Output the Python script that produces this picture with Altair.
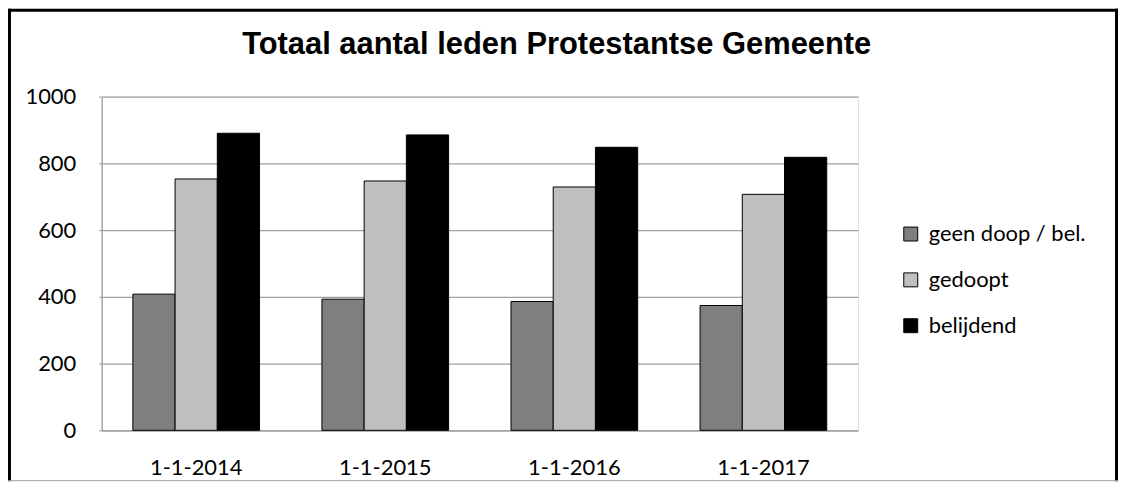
import altair as alt
import pandas as pd

dates = ["1-1-2014", "1-1-2015", "1-1-2016", "1-1-2017"]
series = ["geen doop / bel.", "gedoopt", "belijdend"]
geen = [408, 393, 386, 374]
gedoopt = [753, 747, 729, 707]
belijdend = [890, 885, 848, 818]
colors = ["#7F7F7F", "#BFBFBF", "#000000"]

rows = []
for i, d in enumerate(dates):
    for s, vals in zip(series, [geen, gedoopt, belijdend]):
        rows.append({"datum": d, "groep": s, "leden": vals[i]})
df = pd.DataFrame(rows)

W, H = 759, 335
PL, PT, PR, PB = 94, 88, 261, 51
TOT_W = PL + W + PR
TOT_H = PT + H + PB

bars = alt.Chart(df).mark_bar(stroke="#000000", strokeWidth=1).encode(
    x=alt.X("datum:N", sort=dates, title=None,
            scale=alt.Scale(paddingInner=0.33, paddingOuter=0.165),
            axis=alt.Axis(labelAngle=0, ticks=False, labelPadding=27,
                          domainColor="#A0A0A0", domainWidth=1.3,
                          labelFont="Lato", labelFontSize=22, labelColor="#000000")),
    xOffset=alt.XOffset("groep:N", sort=series, scale=alt.Scale(paddingInner=0, paddingOuter=0)),
    y=alt.Y("leden:Q", title=None,
            scale=alt.Scale(domain=[0, 1000], nice=False),
            axis=alt.Axis(values=[0, 200, 400, 600, 800, 1000], format="d",
                          tickSize=3, tickColor="#A0A0A0",
                          labelPadding=23, grid=True, gridColor="#A0A0A0", gridWidth=1.3,
                          domainColor="#A0A0A0", domainWidth=1.3,
                          labelFont="Lato", labelFontSize=22, labelColor="#000000")),
    color=alt.Color("groep:N", sort=series,
                    scale=alt.Scale(domain=series, range=colors),
                    legend=alt.Legend(title=None, orient="none", legendX=801, legendY=127,
                                      symbolType="square", symbolSize=196,
                                      symbolStrokeColor="#000000", symbolStrokeWidth=1,
                                      symbolOpacity=1,
                                      labelFont="Lato", labelFontSize=22, labelColor="#000000",
                                      labelOffset=7, rowPadding=24, padding=0)),
)

one = alt.Data(values=[{"k": 1}])
frame_top = alt.Chart(one).mark_rule(color="#000000", strokeWidth=3).encode(
    x=alt.value(-PL), x2=alt.value(TOT_W - PL), y=alt.value(-PT + 1.5))
frame_left = alt.Chart(one).mark_rule(color="#000000", strokeWidth=3).encode(
    x=alt.value(-PL + 1.5), y=alt.value(-PT), y2=alt.value(TOT_H - PT))
frame_right = alt.Chart(one).mark_rule(color="#000000", strokeWidth=3).encode(
    x=alt.value(TOT_W - PL - 1.5), y=alt.value(-PT), y2=alt.value(TOT_H - PT))
frame_bottom = alt.Chart(one).mark_rule(color="#A0A0A0", strokeWidth=1).encode(
    x=alt.value(-PL), x2=alt.value(TOT_W - PL), y=alt.value(TOT_H - PT - 0.5))

chart = alt.layer(bars, frame_top, frame_left, frame_right, frame_bottom).properties(
    width=W, height=H,
    autosize=alt.AutoSizeParams(type="none"),
    padding={"left": PL, "top": PT, "right": PR, "bottom": PB},
    title=alt.TitleParams("Totaal aantal leden Protestantse Gemeente",
                          font="Liberation Sans", fontSize=31, fontWeight="bold",
                          color="#000000", anchor="start", frame="group", dx=141,
                          offset=0, dy=54),
).configure_view(stroke=None).configure(background="#FFFFFF")

chart.save("out.html", embed_options={"renderer": "svg", "actions": False})
